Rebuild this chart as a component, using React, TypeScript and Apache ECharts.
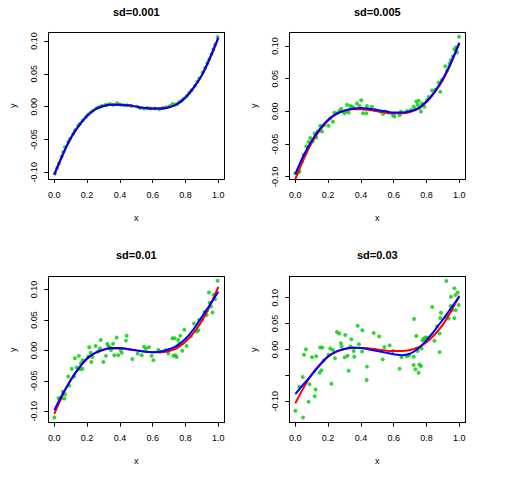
import React, { useEffect, useRef } from "react";
import * as echarts from "echarts";

const titles = ["sd=0.001", "sd=0.005", "sd=0.01", "sd=0.03"];
const xTicks = [0, 0.2, 0.4, 0.6, 0.8, 1.0];
const yTicks = [-0.1, -0.05, 0, 0.05, 0.1];
const yLabelsPanel4 = [-0.1, 0, 0.05, 0.1];

const curveX = [0, 0.05, 0.1, 0.15, 0.2, 0.25, 0.3, 0.35, 0.4, 0.45, 0.5, 0.55, 0.6, 0.65, 0.7, 0.75, 0.8, 0.85, 0.9, 0.95, 1.0];
const trueY = [-0.104, -0.074, -0.048, -0.029, -0.014, -0.004, 0.001, 0.003, 0.003, 0.002, 0.0, -0.002, -0.003, -0.003, -0.001, 0.004, 0.014, 0.029, 0.048, 0.074, 0.104];
const fitY1 = [-0.103, -0.074, -0.048, -0.029, -0.014, -0.004, 0.001, 0.003, 0.003, 0.002, 0.0, -0.002, -0.003, -0.003, -0.001, 0.004, 0.014, 0.029, 0.048, 0.075, 0.105];
const fitY2 = [-0.096, -0.068, -0.045, -0.027, -0.013, -0.004, 0.001, 0.004, 0.005, 0.004, 0.002, 0.0, -0.002, -0.002, 0.0, 0.005, 0.015, 0.03, 0.05, 0.075, 0.105];
const fitY3 = [-0.098, -0.072, -0.049, -0.029, -0.013, -0.004, 0.001, 0.004, 0.004, 0.002, 0.0, -0.002, -0.003, -0.002, 0.002, 0.008, 0.019, 0.035, 0.055, 0.075, 0.096];
const fitY4 = [-0.086, -0.067, -0.049, -0.03, -0.013, -0.004, 0.001, 0.004, 0.003, 0.0, -0.003, -0.006, -0.009, -0.011, -0.008, 0.002, 0.018, 0.037, 0.058, 0.08, 0.102];

const ptsX1 = [0.004, 0.018, 0.028, 0.045, 0.055, 0.065, 0.085, 0.096, 0.116, 0.126, 0.146, 0.157, 0.173, 0.193, 0.207, 0.222, 0.238, 0.258, 0.274, 0.289, 0.309, 0.323, 0.339, 0.36, 0.384, 0.404, 0.425, 0.445, 0.472, 0.506, 0.522, 0.547, 0.567, 0.587, 0.614, 0.64, 0.661, 0.681, 0.705, 0.722, 0.736, 0.75, 0.762, 0.776, 0.787, 0.807, 0.823, 0.837, 0.858, 0.872, 0.884, 0.904, 0.919, 0.933, 0.945, 0.959, 0.97, 0.98, 0.996];
const ptsY1 = [-0.102, -0.093, -0.087, -0.076, -0.069, -0.062, -0.054, -0.049, -0.041, -0.036, -0.029, -0.026, -0.021, -0.016, -0.012, -0.009, -0.006, -0.002, -0.001, 0.001, 0.002, 0.003, 0.004, 0.003, 0.005, 0.003, 0.002, 0.002, 0.001, 0.0, -0.002, -0.003, -0.002, -0.003, -0.003, -0.004, -0.002, -0.001, 0.001, 0.004, 0.003, 0.004, 0.007, 0.009, 0.012, 0.016, 0.021, 0.025, 0.032, 0.038, 0.043, 0.052, 0.059, 0.066, 0.072, 0.08, 0.087, 0.094, 0.106];

const ptsX2 = [0.0, 0.016, 0.026, 0.041, 0.051, 0.067, 0.081, 0.091, 0.106, 0.118, 0.128, 0.136, 0.152, 0.163, 0.177, 0.203, 0.213, 0.23, 0.238, 0.254, 0.27, 0.28, 0.299, 0.311, 0.315, 0.325, 0.335, 0.346, 0.356, 0.376, 0.392, 0.402, 0.413, 0.433, 0.437, 0.467, 0.488, 0.518, 0.535, 0.549, 0.569, 0.596, 0.604, 0.636, 0.644, 0.681, 0.705, 0.722, 0.732, 0.738, 0.746, 0.752, 0.758, 0.766, 0.772, 0.787, 0.803, 0.813, 0.833, 0.854, 0.884, 0.874, 0.894, 0.915, 0.925, 0.941, 0.949, 0.961, 0.97, 0.98, 0.986, 0.998];
const ptsY2 = [-0.095, -0.094, -0.092, -0.077, -0.067, -0.054, -0.047, -0.041, -0.046, -0.034, -0.04, -0.031, -0.022, -0.031, -0.021, -0.022, -0.011, -0.016, -0.002, -0.003, 0.001, 0.004, -0.003, 0.0005, 0.01, -0.002, 0.008, 0.007, 0.005, 0.012, 0.008, 0.017, -0.003, -0.003, 0.008, 0.007, 0.002, -0.0005, -0.004, -0.0005, -0.002, -0.006, -0.008, -0.006, -0.0005, 0.0005, 0.002, 0.007, 0.003, 0.015, 0.01, 0.016, 0.005, -0.0005, 0.012, 0.007, 0.017, 0.022, 0.032, 0.033, 0.03, 0.044, 0.048, 0.069, 0.062, 0.073, 0.078, 0.084, 0.095, 0.098, 0.09, 0.114];

const ptsX3 = [0.0, 0.026, 0.041, 0.051, 0.061, 0.065, 0.085, 0.091, 0.106, 0.12, 0.126, 0.136, 0.15, 0.157, 0.163, 0.171, 0.173, 0.207, 0.213, 0.222, 0.226, 0.232, 0.252, 0.268, 0.278, 0.283, 0.299, 0.315, 0.323, 0.329, 0.339, 0.346, 0.358, 0.366, 0.38, 0.39, 0.404, 0.411, 0.437, 0.441, 0.476, 0.508, 0.533, 0.547, 0.559, 0.577, 0.593, 0.604, 0.634, 0.644, 0.679, 0.695, 0.72, 0.726, 0.734, 0.738, 0.746, 0.75, 0.756, 0.762, 0.768, 0.78, 0.793, 0.807, 0.833, 0.852, 0.868, 0.878, 0.882, 0.898, 0.915, 0.929, 0.933, 0.943, 0.947, 0.955, 0.965, 0.972, 0.98, 0.996];
const ptsY3 = [-0.11, -0.078, -0.079, -0.068, -0.079, -0.072, -0.043, -0.058, -0.03, -0.043, -0.013, -0.028, -0.009, -0.031, -0.021, -0.03, -0.016, -0.01, 0.005, -0.004, -0.019, -0.011, 0.007, -0.002, 0.003, 0.017, -0.019, -0.009, 0.011, 0.007, 0.005, 0.0005, 0.011, -0.008, 0.021, -0.008, 0.0005, -0.004, 0.016, 0.024, -0.014, -0.005, -0.008, 0.006, 0.003, 0.005, -0.009, -0.016, 0.0005, -0.002, 0.0005, -0.005, 0.02, -0.009, 0.02, -0.008, -0.011, 0.007, 0.017, 0.011, 0.024, -0.0005, 0.034, 0.007, 0.023, 0.044, 0.031, 0.033, 0.05, 0.051, 0.063, 0.058, 0.066, 0.095, 0.078, 0.072, 0.062, 0.091, 0.084, 0.114];

const ptsX4 = [0.0, 0.047, 0.045, 0.024, 0.053, 0.065, 0.081, 0.087, 0.102, 0.118, 0.124, 0.128, 0.148, 0.152, 0.165, 0.159, 0.173, 0.203, 0.213, 0.22, 0.23, 0.242, 0.254, 0.268, 0.278, 0.283, 0.305, 0.301, 0.319, 0.325, 0.335, 0.341, 0.356, 0.36, 0.38, 0.388, 0.409, 0.407, 0.437, 0.435, 0.478, 0.512, 0.533, 0.543, 0.575, 0.596, 0.636, 0.648, 0.681, 0.693, 0.724, 0.722, 0.722, 0.732, 0.738, 0.746, 0.752, 0.756, 0.766, 0.77, 0.776, 0.783, 0.793, 0.807, 0.835, 0.848, 0.864, 0.88, 0.88, 0.884, 0.888, 0.915, 0.921, 0.925, 0.935, 0.947, 0.949, 0.957, 0.97, 0.97, 0.976, 0.978, 0.99, 0.996];
const ptsY4 = [-0.118, -0.131, -0.053, -0.072, -0.01, 0.0006, -0.101, -0.067, -0.015, -0.09, -0.077, -0.013, -0.045, 0.004, 0.004, -0.04, -0.021, -0.01, 0.002, -0.066, -0.001, -0.017, 0.034, 0.031, 0.012, 0.006, 0.028, -0.015, -0.012, -0.041, 0.006, 0.02, -0.003, -0.014, 0.046, 0.01, 0.037, -0.004, -0.033, -0.059, 0.032, 0.025, -0.019, 0.005, 0.008, -0.003, -0.037, -0.015, -0.013, -0.011, 0.059, -0.014, -0.03, -0.038, 0.026, -0.003, -0.045, -0.029, -0.032, 0.002, 0.018, 0.021, 0.023, 0.023, 0.082, 0.017, 0.045, -0.005, 0.031, 0.061, 0.071, 0.062, 0.132, 0.066, 0.06, 0.084, 0.102, 0.076, 0.118, 0.061, 0.105, 0.076, 0.11, 0.086];

const yRanges = [
  [-0.1102, 0.1132],
  [-0.1036, 0.1209],
  [-0.1186, 0.1208],
  [-0.1412, 0.1405],
];

const FONT = "'Liberation Sans', Arial, Helvetica, sans-serif";
const X_MIN = -0.0366;
const X_MAX = 1.0366;

export default function App() {
  const ref = useRef<HTMLDivElement>(null);
  useEffect(() => {
    if (!ref.current) return;
    const chart = echarts.init(ref.current, undefined, { renderer: "svg" });
    const grids = [
      { left: 48.3, top: 32.3, width: 176, height: 146.7 },
      { left: 289.3, top: 32.3, width: 176, height: 146.7 },
      { left: 48.3, top: 276.7, width: 176, height: 146 },
      { left: 289.3, top: 276.7, width: 176, height: 146 },
    ];
    const ptsX = [ptsX1, ptsX2, ptsX3, ptsX4];
    const ptsY = [ptsY1, ptsY2, ptsY3, ptsY4];
    const fits = [fitY1, fitY2, fitY3, fitY4];
    const boxLine = { show: true, onZero: false, lineStyle: { color: "#000", width: 1 } };
    const xAxes: any[] = [];
    const yAxes: any[] = [];
    const series: any[] = [];
    for (let i = 0; i < 4; i++) {
      xAxes.push({
        type: "value",
        gridIndex: i,
        position: "bottom",
        min: X_MIN,
        max: X_MAX,
        name: "x",
        nameLocation: "middle",
        nameGap: 34,
        nameTextStyle: { fontFamily: FONT, fontSize: 9, color: "#000" },
        axisLine: boxLine,
        splitLine: { show: false },
        axisTick: { show: true, length: 4, customValues: xTicks, lineStyle: { color: "#000", width: 1 } },
        axisLabel: {
          customValues: xTicks,
          formatter: (v: number) => v.toFixed(1),
          margin: 11,
          fontFamily: FONT,
          fontSize: 9,
          color: "#000",
        },
      });
      xAxes.push({
        type: "value",
        gridIndex: i,
        position: "top",
        min: X_MIN,
        max: X_MAX,
        axisLine: boxLine,
        splitLine: { show: false },
        axisTick: { show: false },
        axisLabel: { show: false },
      });
      yAxes.push({
        type: "value",
        gridIndex: i,
        position: "left",
        min: yRanges[i][0],
        max: yRanges[i][1],
        name: "y",
        nameLocation: "middle",
        nameGap: 31,
        nameTextStyle: { fontFamily: FONT, fontSize: 9, color: "#000" },
        axisLine: boxLine,
        splitLine: { show: false },
        axisTick: { show: true, length: 4, customValues: yTicks, lineStyle: { color: "#000", width: 1 } },
        axisLabel: {
          customValues: i === 3 ? yLabelsPanel4 : yTicks,
          formatter: (v: number) => v.toFixed(2),
          rotate: 90,
          margin: 10,
          fontFamily: FONT,
          fontSize: 9,
          color: "#000",
        },
      });
      yAxes.push({
        type: "value",
        gridIndex: i,
        position: "right",
        min: yRanges[i][0],
        max: yRanges[i][1],
        axisLine: boxLine,
        splitLine: { show: false },
        axisTick: { show: false },
        axisLabel: { show: false },
      });
      series.push({
        type: "scatter",
        xAxisIndex: 2 * i,
        yAxisIndex: 2 * i,
        symbol: "circle",
        symbolSize: 4,
        itemStyle: { color: "#00cd00" },
        data: ptsX[i].map((x, k) => [x, ptsY[i][k]]),
      });
      series.push({
        type: "line",
        xAxisIndex: 2 * i,
        yAxisIndex: 2 * i,
        smooth: 0.4,
        showSymbol: false,
        lineStyle: { color: "#ff0000", width: 2 },
        data: curveX.map((x, k) => [x, trueY[k]]),
      });
      series.push({
        type: "line",
        xAxisIndex: 2 * i,
        yAxisIndex: 2 * i,
        smooth: 0.4,
        showSymbol: false,
        lineStyle: { color: "#0000ff", width: 2 },
        data: curveX.map((x, k) => [x, fits[i][k]]),
      });
    }
    const option: any = {
      animation: false,
      backgroundColor: "#ffffff",
      title: titles.map((t, i) => ({
        text: t,
        left: grids[i].left + grids[i].width / 2,
        top: i < 2 ? 6 : 249.5,
        textAlign: "center",
        padding: 0,
        textStyle: { fontFamily: FONT, fontSize: 11, fontWeight: "bold", color: "#000" },
      })),
      grid: grids.map((g) => ({ ...g, containLabel: false })),
      xAxis: xAxes,
      yAxis: yAxes,
      series,
    };
    chart.setOption(option);
    return () => chart.dispose();
  }, []);
  return (
    <div
      ref={ref}
      style={{ position: "absolute", left: 0, top: 0, width: 529, height: 489, background: "#fff" }}
    />
  );
}
